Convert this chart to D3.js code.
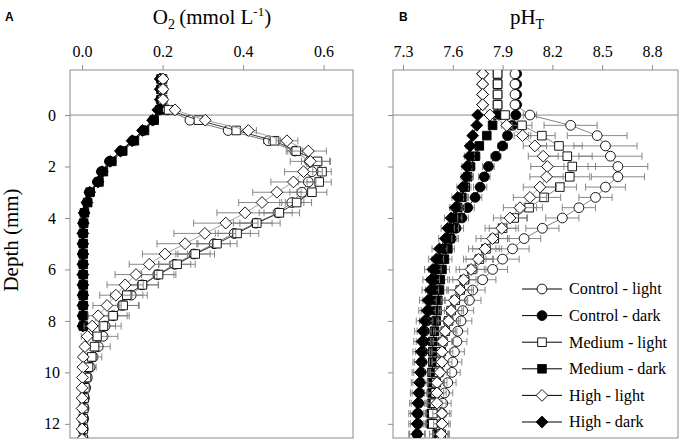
<!DOCTYPE html>
<html>
<head>
<meta charset="utf-8">
<script src="https://cdn.jsdelivr.net/npm/d3@7"></script>
<style>
  body { margin: 0; background: #fff; }
  svg { display: block; }
  svg text { font-family: "Liberation Serif", "Times New Roman", serif; fill: #000; }
  .axis path { display: none; }
  .axis line { stroke: #8c8c8c; }
  .axis text { font-size: 16px; }
</style>
</head>
<body>
<svg id="chart" width="680" height="441"></svg>
<script>
// ---- O2 profiles (mmol L-1) ----
var o2Depth = [-1.4,-1.0,-0.6,-0.2,0.2,0.6,1.0,1.4,1.8,2.2,2.6,3.0,3.4,3.8,4.2,4.6,5.0,5.4,5.8,6.2,6.6,7.0,7.4,7.8,8.2,8.6,9.0,9.4,9.8,10.2,10.6,11.0,11.4,11.8,12.2,12.6];

var o2CtrlLight = [0.200,0.200,0.200,0.212,0.268,0.363,0.463,0.529,0.565,0.571,0.562,0.546,0.521,0.487,0.432,0.378,0.328,0.278,0.230,0.188,0.149,0.122,0.100,0.077,0.057,0.052,0.040,0.027,0.020,0.013,0.009,0.006,0.005,0.004,0.003,0.003];
var o2MedLight = [0.200,0.200,0.200,0.215,0.289,0.383,0.478,0.532,0.585,0.596,0.589,0.571,0.533,0.490,0.434,0.385,0.335,0.281,0.236,0.190,0.150,0.111,0.102,0.077,0.053,0.037,0.031,0.024,0.016,0.011,0.007,0.005,0.004,0.003,0.003,0.003];
var o2HighLight = [0.201,0.201,0.201,0.231,0.306,0.413,0.509,0.562,0.567,0.550,0.525,0.484,0.447,0.405,0.357,0.305,0.256,0.206,0.167,0.134,0.107,0.084,0.062,0.040,0.025,0.013,0.007,0.003,0.002,0.001,0.000,0.000,0.000,0.000,0.000,0.000];
var o2CtrlDark = [0.196,0.196,0.196,0.192,0.177,0.152,0.126,0.097,0.068,0.048,0.038,0.018,0.012,0.005,0.003,0.002,0.002,0.002,0.002,0.002,0.002,0.002,0.002,0.002,0.002];
var o2MedDark = [0.196,0.196,0.196,0.193,0.179,0.155,0.130,0.101,0.074,0.053,0.042,0.020,0.014,0.006,0.004,0.003,0.003,0.003,0.003,0.003,0.003,0.003,0.003,0.003,0.003];
var o2HighDark = [0.194,0.194,0.194,0.188,0.175,0.150,0.124,0.095,0.070,0.050,0.040,0.019,0.012,0.005,0.003,0.002,0.002,0.002,0.002,0.002,0.002,0.002,0.002,0.002,0.002];

var o2CtrlLightErr = [0,0,0,0,0.004,0.008,0.012,0.018,0.020,0.020,0.025,0.030,0.030,0.035,0.040,0.040,0.040,0.040,0.040,0.040,0.040,0.040,0.040,0.040,0.040,0.037,0.030,0.022,0.015,0.010,0.006,0.004,0.002,0,0,0];
var o2MedLightErr = [0,0,0,0,0.004,0.010,0.015,0.025,0.030,0.023,0.030,0.037,0.037,0.050,0.058,0.054,0.050,0.048,0.045,0.043,0.040,0.040,0.040,0.035,0.030,0.025,0.020,0.015,0.010,0.006,0.004,0.002,0,0,0,0];
var o2HighLightErr = [0,0,0,0,0.005,0.020,0.027,0.045,0.050,0.047,0.056,0.060,0.058,0.070,0.080,0.077,0.070,0.056,0.050,0.052,0.045,0.040,0.035,0.025,0.020,0.015,0.008,0.004,0.002,0,0,0,0,0,0,0];
var o2DarkErr = [0,0,0,0,0.002,0.002,0.003,0.003,0.003,0.003,0.003,0.003,0.002,0.002,0.002,0.001,0.001,0.001,0.001,0.001,0.001,0.001,0.001,0.001,0.001];

// ---- pH (total scale) profiles ----
var phDepth = [-1.6,-1.2,-0.8,-0.4,0,0.4,0.8,1.2,1.6,2.0,2.4,2.8,3.2,3.6,4.0,4.4,4.8,5.2,5.6,6.0,6.4,6.8,7.2,7.6,8.0,8.4,8.8,9.2,9.6,10.0,10.4,10.8,11.2,11.6,12.0,12.4];

var phCtrlLight = [7.975,7.975,7.975,7.975,8.065,8.31,8.47,8.52,8.55,8.595,8.595,8.52,8.46,8.36,8.26,8.14,8.03,7.96,7.90,7.84,7.78,7.72,7.70,7.66,7.65,7.63,7.625,7.61,7.60,7.595,7.57,7.55,7.54,7.535,7.53,7.525];
var phMedLight = [7.87,7.87,7.87,7.87,7.915,8.017,8.137,8.24,8.29,8.32,8.305,8.245,8.15,8.06,7.97,7.90,7.85,7.80,7.76,7.715,7.67,7.645,7.615,7.59,7.575,7.555,7.54,7.53,7.525,7.515,7.50,7.495,7.49,7.48,7.48,7.53];
var phHighLight = [7.78,7.78,7.78,7.78,7.824,7.925,8.02,8.095,8.145,8.17,8.165,8.125,8.065,8.005,7.945,7.895,7.84,7.795,7.755,7.71,7.665,7.645,7.61,7.59,7.575,7.555,7.54,7.535,7.535,7.523,7.505,7.505,7.505,7.535,7.535,7.53];
var phCtrlDark = [7.985,7.985,7.985,7.985,7.98,7.96,7.93,7.90,7.86,7.815,7.79,7.765,7.735,7.69,7.655,7.62,7.59,7.55,7.52,7.50,7.49,7.48,7.465,7.455,7.445,7.43,7.425,7.42,7.415,7.41,7.405,7.40,7.395,7.39,7.39,7.385];
var phMedDark = [7.87,7.87,7.87,7.87,7.87,7.84,7.805,7.76,7.735,7.705,7.69,7.675,7.655,7.63,7.615,7.595,7.585,7.57,7.55,7.535,7.525,7.52,7.51,7.505,7.50,7.49,7.48,7.48,7.48,7.475,7.475,7.475,7.475,7.47,7.47,7.505];
var phHighDark = [7.78,7.78,7.78,7.78,7.75,7.745,7.72,7.705,7.70,7.685,7.68,7.66,7.63,7.615,7.59,7.57,7.555,7.52,7.50,7.48,7.47,7.465,7.45,7.445,7.43,7.42,7.415,7.41,7.41,7.405,7.40,7.395,7.39,7.385,7.385,7.385];

var phCtrlLightErr = [0,0,0,0,0.04,0.16,0.18,0.19,0.19,0.18,0.16,0.12,0.10,0.10,0.10,0.10,0.10,0.10,0.10,0.09,0.08,0.075,0.07,0.066,0.065,0.06,0.06,0.06,0.055,0.05,0.05,0.05,0.05,0.045,0.045,0.045];
var phMedLightErr = [0,0,0,0,0.02,0.06,0.08,0.14,0.15,0.14,0.12,0.10,0.10,0.08,0.08,0.08,0.08,0.08,0.08,0.075,0.07,0.07,0.065,0.065,0.06,0.06,0.055,0.055,0.05,0.05,0.05,0.05,0.045,0.045,0.045,0.045];
var phHighLightErr = [0,0,0,0,0.02,0.03,0.05,0.07,0.09,0.10,0.10,0.10,0.10,0.10,0.10,0.10,0.10,0.10,0.09,0.09,0.085,0.08,0.08,0.075,0.07,0.07,0.065,0.065,0.06,0.06,0.06,0.055,0.055,0.055,0.05,0.05];
var phCtrlDarkErr = [0,0,0,0,0.01,0.02,0.025,0.03,0.03,0.035,0.035,0.04,0.04,0.04,0.04,0.045,0.045,0.045,0.045,0.045,0.045,0.045,0.045,0.045,0.045,0.045,0.045,0.045,0.045,0.045,0.045,0.045,0.045,0.045,0.045,0.045];
var phMedDarkErr = [0,0,0,0,0.01,0.02,0.02,0.025,0.03,0.03,0.035,0.035,0.035,0.04,0.04,0.04,0.04,0.04,0.045,0.045,0.045,0.045,0.045,0.045,0.045,0.045,0.045,0.045,0.045,0.045,0.045,0.045,0.045,0.045,0.045,0.045];
var phHighDarkErr = [0,0,0,0,0.01,0.015,0.02,0.025,0.03,0.03,0.03,0.035,0.035,0.035,0.04,0.04,0.04,0.045,0.045,0.05,0.05,0.05,0.05,0.05,0.05,0.05,0.05,0.05,0.05,0.05,0.05,0.05,0.05,0.05,0.05,0.05];

var o2Ticks = [0, 0.2, 0.4, 0.6];
var phTicks = [7.3, 7.6, 7.9, 8.2, 8.5, 8.8];
var depthTicks = [0, 2, 4, 6, 8, 10, 12];

var legendNames = ["Control - light", "Control - dark", "Medium - light", "Medium - dark", "High - light", "High - dark"];
var shapes = ["circle", "circle", "square", "square", "diamond", "diamond"];
var fills = ["#fff", "#000", "#fff", "#000", "#fff", "#000"];

var serif = "'Liberation Serif', 'Times New Roman', serif";
var sans = "'Liberation Sans', Arial, sans-serif";

var svg = d3.select("#chart");

var y = d3.scaleLinear().domain([-1.75, 12.55]).range([70, 438]);
var xO2 = d3.scaleLinear().domain([-0.03, 0.673]).range([70, 353]);
var xPH = d3.scaleLinear().domain([7.24, 8.957]).range([393, 678]);

function markerPath(shape) {
  if (shape == "circle") return d3.symbol().type(d3.symbolCircle).size(Math.PI * 4.9 * 4.9)();
  if (shape == "square") return d3.symbol().type(d3.symbolSquare).size(8.6 * 8.6)();
  return "M0,-5.9L5.9,0L0,5.9L-5.9,0Z";
}

function makeSeries(depth, vals, errs, i, lineColor) {
  return {
    name: legendNames[i], shape: shapes[i], fill: fills[i], line: lineColor,
    points: vals.map(function(v, j) { return {d: depth[j], v: v, e: errs[j]}; })
  };
}

// dark profiles drawn first, light ones on top
var o2Series = [
  makeSeries(o2Depth, o2CtrlDark, o2DarkErr, 1, "#000"),
  makeSeries(o2Depth, o2MedDark, o2DarkErr, 3, "#000"),
  makeSeries(o2Depth, o2HighDark, o2DarkErr, 5, "#000"),
  makeSeries(o2Depth, o2CtrlLight, o2CtrlLightErr, 0, "#666"),
  makeSeries(o2Depth, o2MedLight, o2MedLightErr, 2, "#222"),
  makeSeries(o2Depth, o2HighLight, o2HighLightErr, 4, "#999")
];
var phSeries = [
  makeSeries(phDepth, phCtrlDark, phCtrlDarkErr, 1, "#000"),
  makeSeries(phDepth, phMedDark, phMedDarkErr, 3, "#000"),
  makeSeries(phDepth, phHighDark, phHighDarkErr, 5, "#000"),
  makeSeries(phDepth, phCtrlLight, phCtrlLightErr, 0, "#777"),
  makeSeries(phDepth, phMedLight, phMedLightErr, 2, "#777"),
  makeSeries(phDepth, phHighLight, phHighLightErr, 4, "#999")
];

function drawPanel(id, x, series, ticks, fmt, yLabels) {
  var x0 = x.range()[0], x1 = x.range()[1];
  var y0 = y.range()[0], y1 = y.range()[1];
  var g = svg.append("g");

  g.append("clipPath").attr("id", id)
    .append("rect").attr("x", x0).attr("y", y0).attr("width", x1 - x0).attr("height", y1 - y0);

  g.append("rect")
      .attr("x", x0).attr("y", y0)
      .attr("width", x1 - x0).attr("height", y1 - y0)
      .attr("fill", "none").attr("stroke", "#8c8c8c");

  // sediment surface
  g.append("line")
      .attr("x1", x0).attr("x2", x1)
      .attr("y1", y(0)).attr("y2", y(0))
      .attr("stroke", "#8c8c8c");

  var xa = g.append("g").attr("class", "axis")
      .attr("transform", "translate(0," + y0 + ")")
      .call(d3.axisTop(x).tickValues(ticks).tickFormat(d3.format(fmt)).tickSize(5).tickPadding(8));
  xa.attr("font-family", null).attr("font-size", null);
  xa.selectAll("text").style("font-family", serif).style("font-size", "16px");

  var ya = g.append("g").attr("class", "axis")
      .attr("transform", "translate(" + x0 + ",0)")
      .call(d3.axisLeft(y).tickValues(depthTicks).tickSize(5));
  ya.attr("font-family", null).attr("font-size", null);
  if (yLabels) {
    ya.selectAll("text").attr("x", -18).attr("text-anchor", "middle")
        .style("font-family", serif).style("font-size", "16px");
  } else {
    ya.selectAll("text").remove();
  }

  var plot = g.append("g").attr("clip-path", "url(#" + id + ")");
  var line = d3.line().x(function(p) { return x(p.v); }).y(function(p) { return y(p.d); });

  series.forEach(function(s) {
    var sg = plot.append("g");
    sg.append("path")
        .attr("d", line(s.points))
        .attr("fill", "none").attr("stroke", s.line).attr("stroke-width", 0.9);

    var eb = sg.selectAll(".err")
        .data(s.points.filter(function(p) { return p.e > 0; }))
        .enter().append("g").attr("class", "err")
        .attr("stroke", "#7a7a7a").attr("stroke-width", 0.9);
    eb.append("line")
        .attr("x1", function(p) { return x(p.v - p.e); })
        .attr("x2", function(p) { return x(p.v + p.e); })
        .attr("y1", function(p) { return y(p.d); })
        .attr("y2", function(p) { return y(p.d); });
    [-1, 1].forEach(function(sign) {
      eb.append("line")
          .attr("x1", function(p) { return x(p.v + sign * p.e); })
          .attr("x2", function(p) { return x(p.v + sign * p.e); })
          .attr("y1", function(p) { return y(p.d) - 3.5; })
          .attr("y2", function(p) { return y(p.d) + 3.5; });
    });

    sg.selectAll(".mark")
        .data(s.points)
        .enter().append("path").attr("class", "mark")
        .attr("d", markerPath(s.shape))
        .attr("transform", function(p) { return "translate(" + x(p.v) + "," + y(p.d) + ")"; })
        .attr("fill", s.fill)
        .attr("stroke", "#000").attr("stroke-width", 0.9);
  });
  return g;
}

drawPanel("clipA", xO2, o2Series, o2Ticks, ".1f", true);
drawPanel("clipB", xPH, phSeries, phTicks, ".1f", false);

// panel letters and titles
svg.append("text").attr("x", 5).attr("y", 21)
    .style("font-family", sans)
    .style("font-weight", "bold").style("font-size", "12px").text("A");
svg.append("text").attr("x", 399).attr("y", 21)
    .style("font-family", sans)
    .style("font-weight", "bold").style("font-size", "12px").text("B");

var t1 = svg.append("text").attr("x", 212).attr("y", 24)
    .attr("text-anchor", "middle").style("font-family", serif).style("font-size", "21px");
t1.append("tspan").text("O");
t1.append("tspan").attr("dy", 5).style("font-size", "14px").text("2");
t1.append("tspan").attr("dy", -5).text("\u2009(mmol L");
t1.append("tspan").attr("dy", -8).style("font-size", "13px").text("-1");
t1.append("tspan").attr("dy", 8).text(")");

var t2 = svg.append("text").attr("x", 527).attr("y", 24)
    .attr("text-anchor", "middle").style("font-family", serif).style("font-size", "21px");
t2.append("tspan").text("pH");
t2.append("tspan").attr("dy", 5).style("font-size", "14px").text("T");

svg.append("text")
    .attr("transform", "translate(18,240)rotate(-90)")
    .attr("text-anchor", "middle").style("font-family", serif).style("font-size", "21px")
    .text("Depth (mm)");

// legend
var legend = svg.append("g").selectAll(".leg")
    .data(legendNames)
    .enter().append("g").attr("class", "leg")
    .attr("transform", function(d, i) { return "translate(522," + (289 + i * 26.6) + ")"; });
legend.append("line").attr("x1", 0).attr("x2", 40).attr("stroke", "#000").attr("stroke-width", 1);
legend.append("path")
    .attr("d", function(d, i) { return markerPath(shapes[i]); })
    .attr("transform", "translate(20,0)")
    .attr("fill", function(d, i) { return fills[i]; })
    .attr("stroke", "#000").attr("stroke-width", 0.9);
legend.append("text")
    .attr("x", 47).attr("dy", "0.33em")
    .style("font-family", serif)
    .style("font-size", "16.2px")
    .text(function(d) { return d; });
</script>
</body>
</html>
